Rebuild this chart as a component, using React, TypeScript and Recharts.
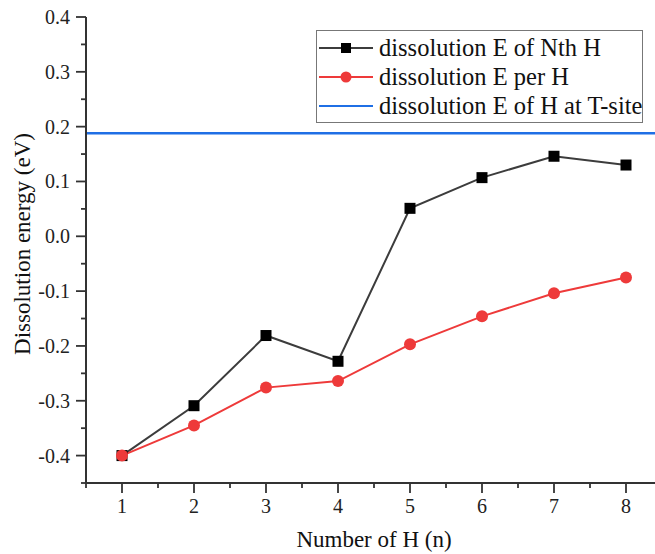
import React from 'react';
import { LineChart, Line, XAxis, YAxis, ReferenceLine, Legend, Label } from 'recharts';

const nValues = [1, 2, 3, 4, 5, 6, 7, 8];
const nthH = [-0.4, -0.309, -0.181, -0.228, 0.051, 0.107, 0.146, 0.13];
const perH = [-0.4, -0.345, -0.276, -0.264, -0.197, -0.146, -0.104, -0.075];
const tSiteE = 0.188;

const xTicks = [0.5, 1, 1.5, 2, 2.5, 3, 3.5, 4, 4.5, 5, 5.5, 6, 6.5, 7, 7.5, 8, 8.5];
const xMajor = [1, 2, 3, 4, 5, 6, 7, 8];
const yTicks = [-0.45, -0.4, -0.35, -0.3, -0.25, -0.2, -0.15, -0.1, -0.05, 0, 0.05, 0.1, 0.15, 0.2, 0.25, 0.3, 0.35, 0.4];
const yMajor = [-0.4, -0.3, -0.2, -0.1, 0, 0.1, 0.2, 0.3, 0.4];

const seriesNames = ['dissolution E of Nth H', 'dissolution E per H', 'dissolution E of H at T-site'];

const data = nValues.map((n, i) => ({ n, nth: nthH[i], per: perH[i] }));

const FONT = 'Liberation Serif, Times New Roman, DejaVu Serif, serif';
const AXIS = '#333';
const BLACK_LINE = '#3c3c3c';
const RED = '#ee3a3a';
const BLUE = '#1f6fe5';

const isMajor = (v: number, list: number[]) => list.some((m) => Math.abs(m - v) < 1e-6);

const LeftTick = (props: any) => {
  const { x, y, payload } = props;
  const major = isMajor(payload.value, yMajor);
  return (
    <g>
      <line x1={x} x2={x - (major ? 10 : 5)} y1={y} y2={y} stroke={AXIS} strokeWidth={1.8} />
      {major && (
        <text x={x - 16} y={y + 7} textAnchor="end" style={{ fontFamily: FONT }} fontSize={20} fill="#222">
          {payload.value.toFixed(1)}
        </text>
      )}
    </g>
  );
};

const BottomTick = (props: any) => {
  const { x, y, payload } = props;
  const major = isMajor(payload.value, xMajor);
  return (
    <g>
      <line x1={x} x2={x} y1={y} y2={y + (major ? 10 : 5)} stroke={AXIS} strokeWidth={1.8} />
      {major && (
        <text x={x} y={y + 30} textAnchor="middle" style={{ fontFamily: FONT }} fontSize={20} fill="#222">
          {payload.value}
        </text>
      )}
    </g>
  );
};

const TopTick = (props: any) => {
  const { x, y } = props;
  return <line x1={x} x2={x} y1={y} y2={y + 8} stroke={AXIS} strokeWidth={1.8} />;
};

const RightTick = (props: any) => {
  const { x, y } = props;
  return <line x1={x} x2={x - 8} y1={y} y2={y} stroke={AXIS} strokeWidth={1.8} />;
};

const SquareDot = (props: any) => {
  const { cx, cy, index } = props;
  return <rect key={`sq-${index}`} x={cx - 5.5} y={cy - 5.5} width={11} height={11} fill="#000" />;
};

const LegendBox = () => {
  const colors = [BLACK_LINE, RED, BLUE];
  return (
    <div
      style={{
        border: '1.5px solid #777',
        background: '#fff',
        width: 327,
        height: 93,
        boxSizing: 'border-box',
        padding: '2.5px 0 0 0',
        fontFamily: FONT,
        fontSize: 24.5,
        color: '#111',
      }}
    >
      {seriesNames.map((name, i) => (
        <div key={name} style={{ display: 'flex', alignItems: 'center', height: 29 }}>
          <svg width={62} height={20} style={{ flex: 'none' }}>
            <line x1={2} x2={56} y1={10} y2={10} stroke={colors[i]} strokeWidth={2.2} />
            {i === 0 && <rect x={24} y={5} width={10} height={10} fill="#000" />}
            {i === 1 && <circle cx={29} cy={10} r={5.5} fill={RED} />}
          </svg>
          <span style={{ whiteSpace: 'nowrap', lineHeight: '28px' }}>{name}</span>
        </div>
      ))}
    </div>
  );
};

export default function App() {
  return (
    <div style={{ position: 'absolute', left: 0, top: 0, width: 655, height: 554, overflow: 'hidden', background: '#fff' }}>
      <LineChart width={670} height={554} data={data} margin={{ top: 17, right: 8, bottom: 0, left: 0 }}>
        <XAxis
          dataKey="n"
          type="number"
          domain={[0.5, 8.5]}
          ticks={xTicks}
          interval={0}
          tickSize={0}
          tickMargin={0}
          tickLine={false}
          tick={<BottomTick />}
          axisLine={{ stroke: AXIS, strokeWidth: 2 }}
          height={71}
          allowDataOverflow
        >
          <Label
            content={(p: any) => {
              const vb = p.viewBox;
              return (
                <text x={vb.x + vb.width / 2} y={547} textAnchor="middle" style={{ fontFamily: FONT }} fontSize={23} fill="#111">
                  Number of H (n)
                </text>
              );
            }}
          />
        </XAxis>
        <XAxis
          xAxisId="top"
          orientation="top"
          type="number"
          domain={[0.5, 8.5]}
          ticks={xMajor}
          interval={0}
          tickSize={0}
          tickMargin={0}
          tickLine={false}
          tick={<TopTick />}
          axisLine={{ stroke: AXIS, strokeWidth: 2 }}
          height={0}
        />
        <YAxis
          type="number"
          domain={[-0.45, 0.4]}
          ticks={yTicks}
          interval={0}
          tickSize={0}
          tickMargin={0}
          tickLine={false}
          tick={<LeftTick />}
          axisLine={{ stroke: AXIS, strokeWidth: 2 }}
          width={86}
          allowDataOverflow
        >
          <Label
            content={(p: any) => {
              const vb = p.viewBox;
              const cx = vb.x + 22;
              const cy = vb.y + vb.height / 2 - 6;
              return (
                <text
                  x={cx}
                  y={cy}
                  transform={`rotate(-90, ${cx}, ${cy})`}
                  textAnchor="middle"
                  dominantBaseline="central"
                  style={{ fontFamily: FONT }}
                  fontSize={23}
                  fill="#111"
                >
                  Dissolution energy (eV)
                </text>
              );
            }}
          />
        </YAxis>
        <YAxis
          yAxisId="right"
          orientation="right"
          type="number"
          domain={[-0.45, 0.4]}
          ticks={yMajor}
          interval={0}
          tickSize={0}
          tickMargin={0}
          tickLine={false}
          tick={<RightTick />}
          axisLine={{ stroke: AXIS, strokeWidth: 2 }}
          width={0}
        />
        <ReferenceLine y={tSiteE} stroke={BLUE} strokeWidth={2.5} />
        <Line
          dataKey="nth"
          stroke={BLACK_LINE}
          strokeWidth={2}
          dot={<SquareDot />}
          activeDot={false}
          isAnimationActive={false}
        />
        <Line
          dataKey="per"
          stroke={RED}
          strokeWidth={2}
          dot={{ r: 6, fill: RED, stroke: RED, strokeWidth: 0 }}
          activeDot={false}
          isAnimationActive={false}
        />
        <Legend
          layout="vertical"
          align="center"
          verticalAlign="middle"
          content={<LegendBox />}
          wrapperStyle={{ position: 'absolute', left: 316, top: 30, width: 'auto' }}
        />
      </LineChart>
    </div>
  );
}
